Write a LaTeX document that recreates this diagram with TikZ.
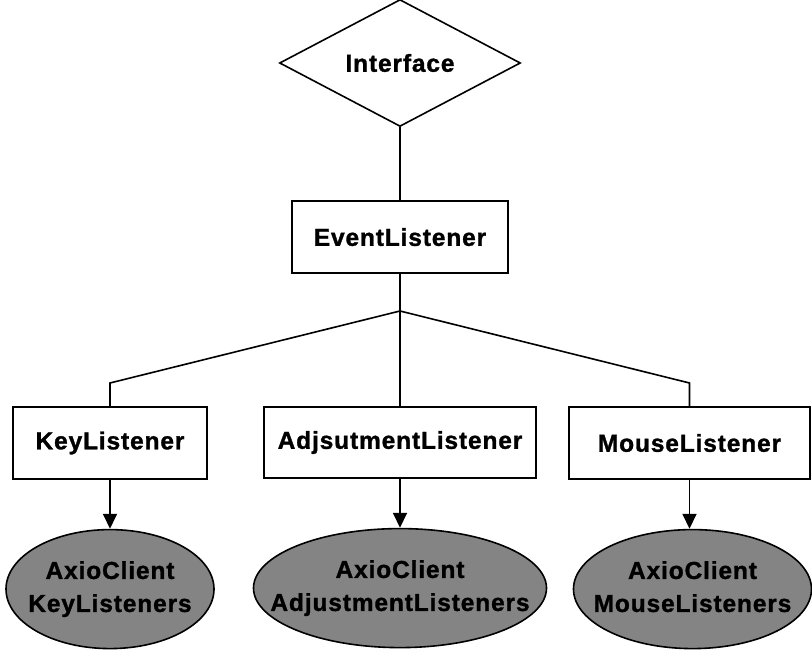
\documentclass[tikz,border=0pt]{standalone}
\usepackage{fontspec}
\setmainfont{Liberation Sans}[LetterSpace=3.5,BoldFeatures={FakeBold=1.2}]
\usetikzlibrary{arrows.meta,positioning,shapes.geometric}
\definecolor{cShade}{RGB}{132,132,132}

\begin{document}
\begin{tikzpicture}[
  x=1pt,y=-1pt,
  node distance=49pt,
  font=\fontsize{24.5}{33}\selectfont\bfseries,
  iface/.style={draw,diamond,inner sep=0pt,minimum width=241pt,minimum height=108pt,
                line width=1.6pt},
  cls/.style={draw,minimum height=72pt,inner sep=0pt,line width=1.6pt},
  impl/.style={draw,ellipse,fill=cShade,inner sep=-60pt,minimum height=119pt,
               align=center,line width=1.6pt},
  link/.style={line width=1.6pt},
  realize/.style={-{Triangle[width=14pt,length=15pt]},line width=1.6pt},
]
\useasboundingbox (0,0) rectangle (812,652);
% interface and its super class
\node[iface] (iface) at (400,63) {Interface};
\node[cls,minimum width=216pt,below=73pt of iface] (evt) {EventListener};
\draw[link] (iface) -- (evt);
% listener classes
\node[cls,minimum width=194pt] (key) at (110,443) {KeyListener};
\node[cls,minimum width=272pt,minimum height=71pt] (adj) at (400,442.5) {AdjsutmentListener};
\node[cls,minimum width=241pt] (mouse) at (689.5,443) {MouseListener};
% fork under EventListener
\coordinate (fork) at (400,311);
\coordinate (kbend) at (110,383);
\coordinate (mbend) at (689.5,383);
\draw[link] (evt) -- (fork);
\draw[link] (fork) -- (kbend) -- (key);
\draw[link] (fork) -- (adj);
\draw[link] (fork) -- (mbend) -- (mouse);
% AxioClient implementations
\node[impl,minimum width=208pt,below=of key] (axkey) {AxioClient\\KeyListeners};
\node[impl,minimum width=293pt,below=of adj] (axadj) {AxioClient\\AdjustmentListeners};
\node[impl,minimum width=238pt,below=of mouse,xshift=3pt] (axmouse) {AxioClient\\MouseListeners\vphantom{y}};
\draw[realize] (key) -- (axkey);
\draw[realize] (adj) -- (axadj);
\draw[realize] (mouse) -- (mouse |- axmouse.north);
\end{tikzpicture}
\end{document}
